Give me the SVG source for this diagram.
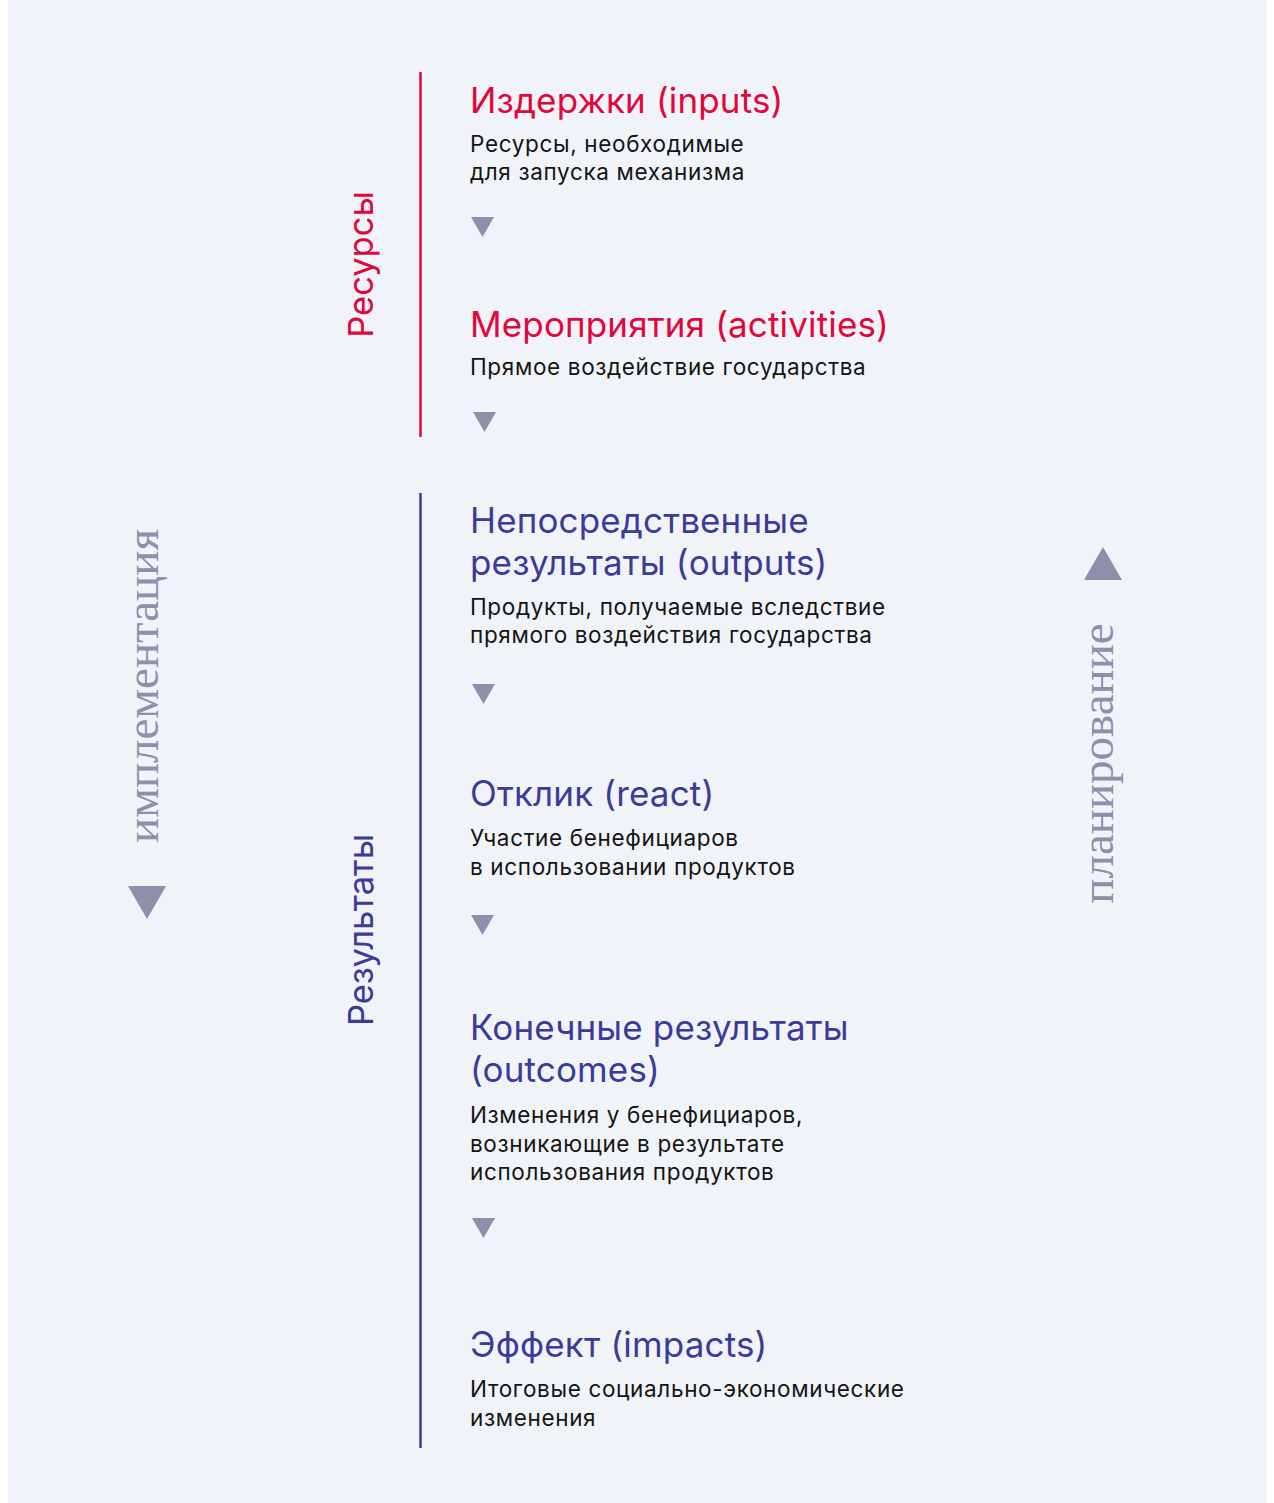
<svg xmlns="http://www.w3.org/2000/svg" width="1274" height="1503" viewBox="0 0 1274 1503">
<style>
.h{font-family:Inter,"Noto Sans",sans-serif;font-size:35px;letter-spacing:0.15px;}
.red{fill:#e3063c;}
.blue{fill:#3a3b9a;}
.b{font-family:Inter,"Noto Sans",sans-serif;font-size:22.5px;letter-spacing:0.65px;fill:#141414;}
.side{font-family:Inter,"Noto Sans",sans-serif;font-size:34.5px;}
.serif{font-family:"Liberation Serif","DejaVu Serif",serif;font-size:47px;fill:#8e8fab;}
.tri{fill:#8e8fab;}
</style>
<rect x="8" y="0" width="1259" height="1503" fill="#f0f4f8"/>
<g id="connectors">
<line x1="420.5" y1="72" x2="420.5" y2="437" stroke="#e3063c" stroke-width="2.5"/>
<line x1="420.5" y1="493" x2="420.5" y2="1448" stroke="#3a3b9a" stroke-width="2.5"/>
<polygon class="tri" points="471,217 494,217 482.5,237"/>
<polygon class="tri" points="473,412 496,412 484.5,432"/>
<polygon class="tri" points="472,684 495,684 483.5,704"/>
<polygon class="tri" points="471,915 494,915 482.5,935"/>
<polygon class="tri" points="472,1218 495,1218 483.5,1238"/>
</g>
<g id="label-resursy"><text class="side red" transform="translate(373,264.5) rotate(-90)" text-anchor="middle">Ресурсы</text></g>
<g id="label-rezultaty"><text class="side blue" transform="translate(373,930) rotate(-90)" text-anchor="middle">Результаты</text></g>
<g id="label-implementation">
<text class="serif" transform="translate(158,686) rotate(-90)" text-anchor="middle">имплементация</text>
<polygon class="tri" points="128,886 166,886 147,919"/>
</g>
<g id="label-planning">
<text class="serif" transform="translate(1113,763.5) rotate(-90)" text-anchor="middle">планирование</text>
<polygon class="tri" points="1084,580 1122,580 1103,547"/>
</g>
<g id="node-inputs">
<text class="h red" x="470" y="113">Издержки (inputs)</text>
<text class="b" x="470" y="152">Ресурсы, необходимые</text>
<text class="b" x="470" y="180">для запуска механизма</text>
</g>
<g id="node-activities">
<text class="h red" x="470" y="337">Мероприятия (activities)</text>
<text class="b" x="470" y="375">Прямое воздействие государства</text>
</g>
<g id="node-outputs">
<text class="h blue" x="470" y="533">Непосредственные</text>
<text class="h blue" x="470" y="575">результаты (outputs)</text>
<text class="b" x="470" y="615">Продукты, получаемые вследствие</text>
<text class="b" x="470" y="643">прямого воздействия государства</text>
</g>
<g id="node-react">
<text class="h blue" x="470" y="806">Отклик (react)</text>
<text class="b" x="470" y="846">Участие бенефициаров</text>
<text class="b" x="470" y="875">в использовании продуктов</text>
</g>
<g id="node-outcomes">
<text class="h blue" x="470" y="1040">Конечные результаты</text>
<text class="h blue" x="470" y="1082">(outcomes)</text>
<text class="b" x="470" y="1123">Изменения у бенефициаров,</text>
<text class="b" x="470" y="1152">возникающие в результате</text>
<text class="b" x="470" y="1180">использования продуктов</text>
</g>
<g id="node-impacts">
<text class="h blue" x="470" y="1357">Эффект (impacts)</text>
<text class="b" x="470" y="1397">Итоговые социально-экономические</text>
<text class="b" x="470" y="1426">изменения</text>
</g>
</svg>
